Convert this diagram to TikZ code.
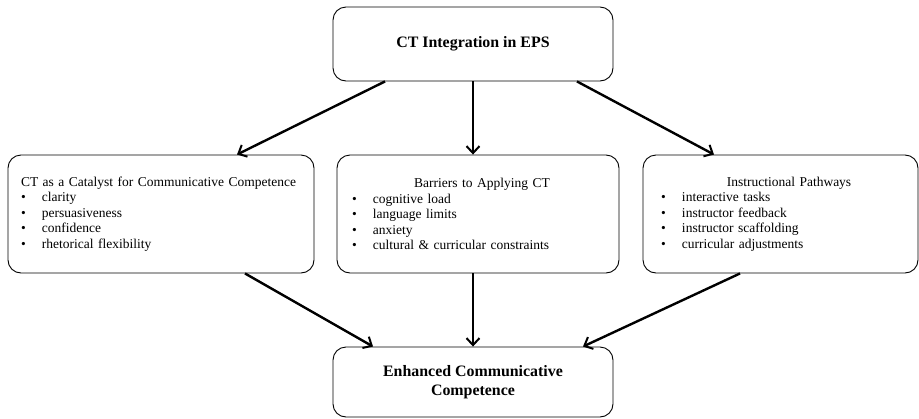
\documentclass[tikz,border=0pt]{standalone}
\usepackage{fontspec}
\setmainfont{Liberation Serif}
\usetikzlibrary{arrows.meta}
\newcommand{\bitem}[1]{\makebox[21pt][l]{•}#1}
\tikzset{
  box/.style={draw, line width=0.9pt, rounded corners=13pt, inner sep=0pt},
  listbox/.style={box, minimum height=118pt, align=left, font=\fontsize{13.5}{15.5}\selectfont},
  headbox/.style={box, minimum width=280pt, align=center, font=\bfseries\fontsize{15.9}{18.5}\selectfont},
  conn/.style={line width=2.4pt, -{Straight Barb[length=7pt,width=13pt,line width=2pt]}}
}
\begin{document}
\begin{tikzpicture}[x=1pt,y=-1pt]
\useasboundingbox (0,0) rectangle (919,418);
\node[headbox, minimum height=74pt] (T) at (473,44) {CT Integration in EPS};
\node[listbox, minimum width=306pt, text width=280pt] (L) at (161,214)
  {\mbox{CT as a Catalyst for Communicative Competence}\\
   \bitem{clarity}\\ \bitem{persuasiveness}\\ \bitem{confidence}\\ \bitem{rhetorical flexibility}};
\node[listbox, minimum width=282pt, text width=252pt] (M) at (478,214)
  {{\centering\hspace*{8pt}Barriers to Applying CT\par}
   \bitem{cognitive load}\\ \bitem{language limits}\\ \bitem{anxiety}\\ \bitem{cultural \& curricular constraints}};
\node[listbox, minimum width=275pt, text width=245pt] (R) at (780.5,214)
  {{\centering\hspace*{17pt}Instructional Pathways\par}
   \hspace*{3pt}\bitem{interactive tasks}\\ \hspace*{3pt}\bitem{instructor feedback}\\ \hspace*{3pt}\bitem{instructor scaffolding}\\ \hspace*{3pt}\bitem{curricular adjustments}};
\node[headbox, minimum height=70pt] (B) at (473,382) {Enhanced Communicative\\Competence};
\draw[conn] ([xshift=-88pt]T.south) -- ([xshift=76pt]L.north);
\draw[conn] (T.south) -- ([xshift=-5pt]M.north);
\draw[conn] ([xshift=104pt]T.south) -- ([xshift=-66.5pt]R.north);
\draw[conn] ([xshift=84pt]L.south) -- ([xshift=-100pt]B.north);
\draw[conn] ([xshift=-5pt]M.south) -- (B.north);
\draw[conn] ([xshift=-40.5pt]R.south) -- ([xshift=110pt]B.north);
\end{tikzpicture}
\end{document}
